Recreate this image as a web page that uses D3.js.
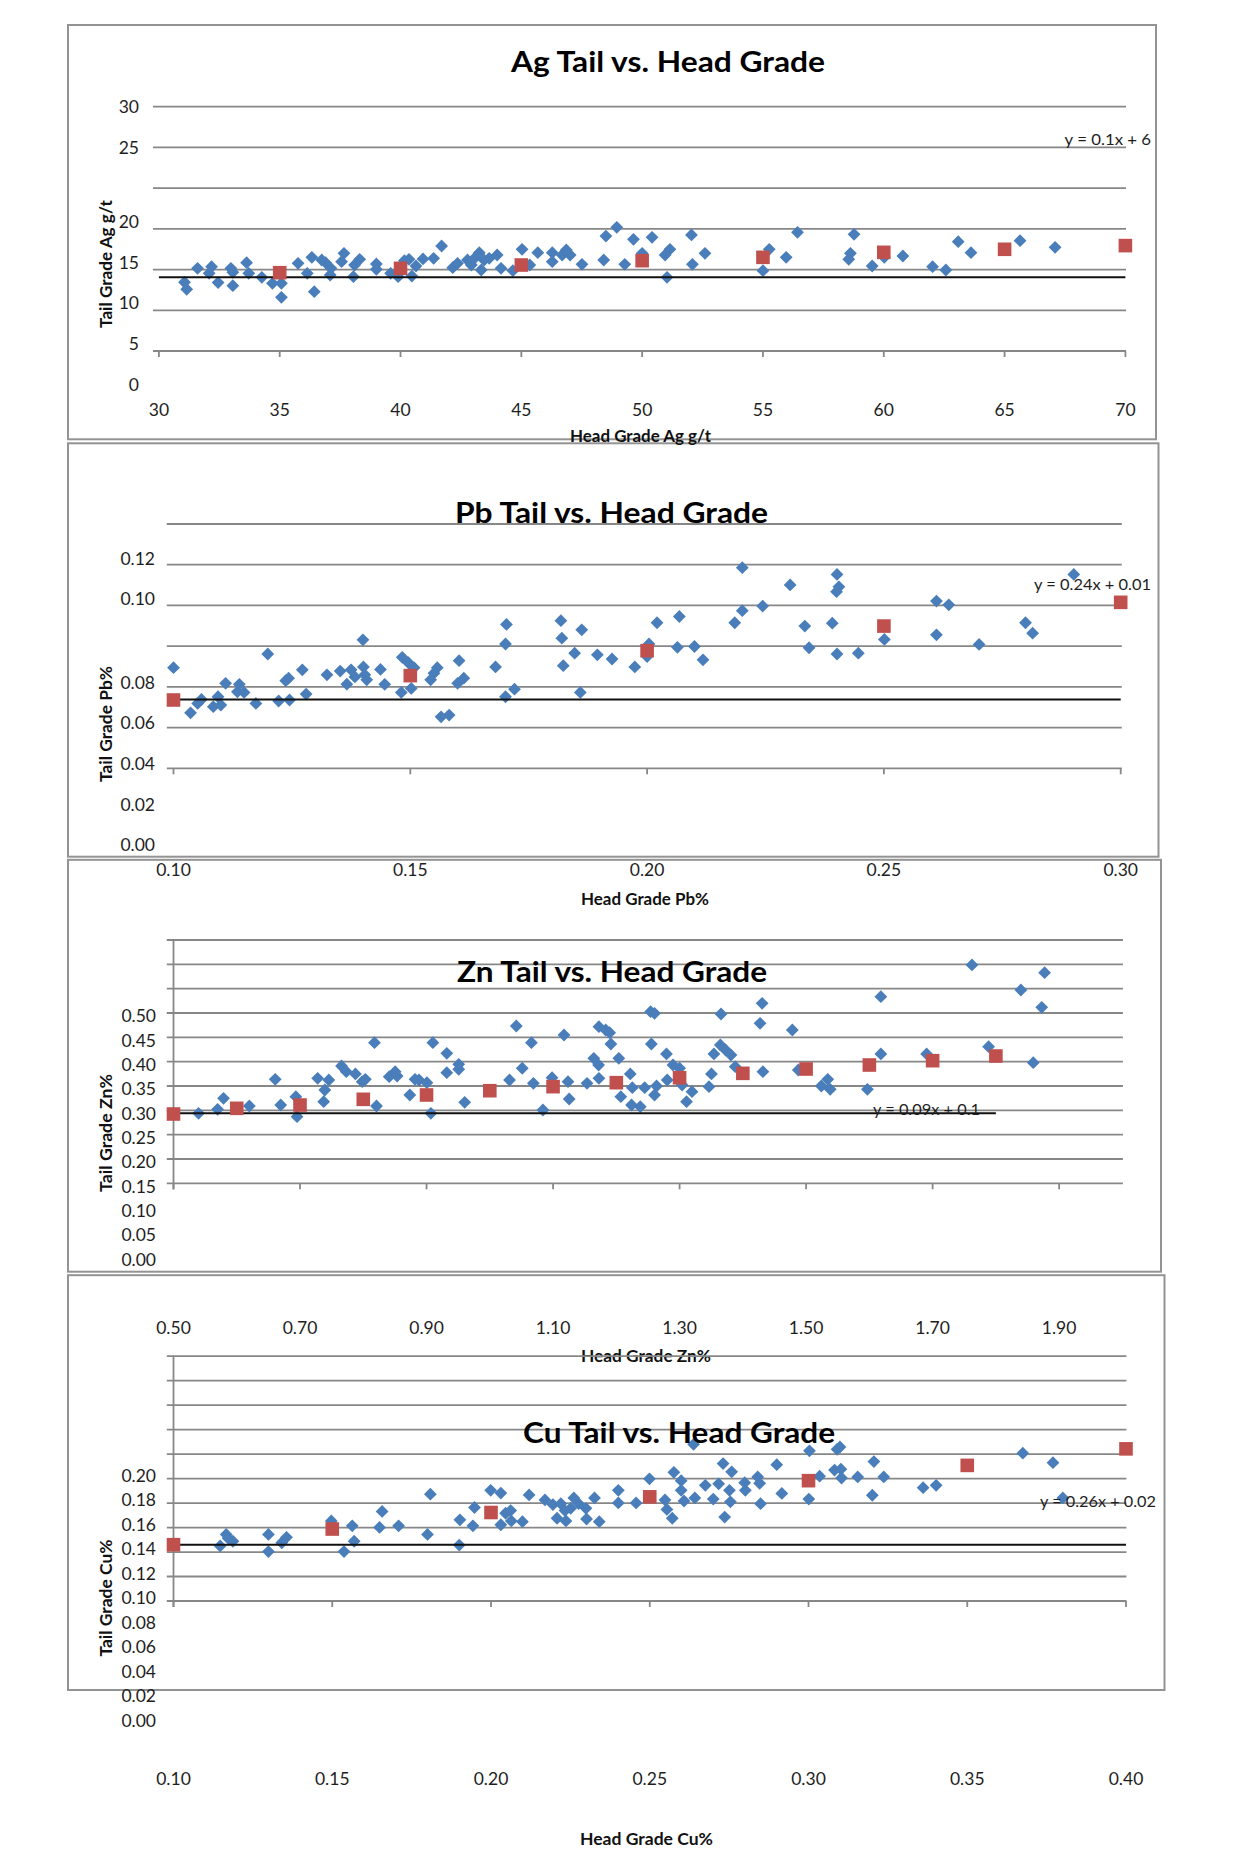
<!DOCTYPE html>
<html><head><meta charset="utf-8">
<script src="https://cdn.jsdelivr.net/npm/d3@7"></script>
<style>body{margin:0;background:#fff}svg{display:block}</style>
</head><body>
<script>
// ---------------- DATA ----------------
const agBlue = [[31.06,12.55],[31.15,11.69],[31.6,14.25],[32.08,13.64],[32.18,14.46],[32.45,12.51],[32.98,14.25],[33.06,13.76],[33.06,12.14],[33.63,14.94],[33.72,13.64],[34.26,13.15],[34.7,12.42],[35.07,12.42],[35.07,10.71],[35.76,14.86],[36.14,13.64],[36.33,15.6],[36.43,11.4],[36.74,15.27],[36.9,14.94],[37.09,13.44],[37.12,14.25],[37.56,15.07],[37.66,16.09],[38.05,13.23],[38.1,14.66],[38.31,15.35],[39.0,14.78],[39.0,14.13],[39.59,13.64],[39.9,13.23],[40.16,15.19],[40.35,15.35],[40.47,13.31],[40.64,14.54],[40.93,15.4],[41.37,15.48],[41.7,16.98],[42.16,14.33],[42.36,14.86],[42.77,15.27],[42.93,14.66],[43.1,15.6],[43.26,16.17],[43.34,14.05],[43.46,15.27],[43.67,15.48],[44.0,15.88],[44.16,14.25],[44.65,13.97],[45.03,16.58],[45.35,14.66],[45.68,16.17],[46.28,16.17],[46.28,15.07],[46.69,15.88],[46.86,16.5],[47.02,15.88],[47.51,14.74],[48.41,15.27],[48.5,18.2],[48.95,19.26],[49.28,14.74],[49.64,17.8],[50.0,16.09],[50.41,18.04],[50.95,15.88],[51.03,13.15],[51.15,16.58],[52.04,18.33],[52.08,14.74],[52.6,16.09],[55.0,13.97],[55.26,16.58],[55.96,15.6],[56.43,18.65],[58.55,15.35],[58.62,16.09],[58.77,18.41],[59.52,14.54],[60.02,15.6],[60.79,15.76],[62.02,14.46],[62.57,14.05],[63.08,17.51],[63.61,16.17],[65.64,17.63],[67.09,16.82]];
const agRed = [[35,13.72],[40,14.25],[45,14.66],[50,15.19],[55,15.6],[60,16.21],[65,16.58],[70,17.03]];
const agLine = [30,70,13.15];
const agXTicks = [30,35,40,45,50,55,60,65,70];
const agYLabels = [0,5,10,15,20,25,30];
const agGrid = [0,5,10,15,20,25,30];

const pbBlue = [[0.1000,0.0835],[0.1036,0.0650],[0.1051,0.0696],[0.1059,0.0716],[0.1084,0.0680],[0.1094,0.0729],[0.1100,0.0688],[0.1110,0.0795],[0.1135,0.0753],[0.1139,0.0790],[0.1149,0.0750],[0.1174,0.0696],[0.1199,0.0868],[0.1222,0.0708],[0.1237,0.0804],[0.1243,0.0810],[0.1245,0.0713],[0.1272,0.0830],[0.1280,0.0742],[0.1324,0.0818],[0.1352,0.0827],[0.1366,0.0791],[0.1375,0.0830],[0.1383,0.0813],[0.1400,0.0902],[0.1401,0.0837],[0.1404,0.0818],[0.1408,0.0806],[0.1437,0.0831],[0.1446,0.0790],[0.1483,0.0860],[0.1481,0.0750],[0.1496,0.0847],[0.1508,0.0835],[0.1502,0.0770],[0.1543,0.0806],[0.1550,0.0822],[0.1557,0.0835],[0.1565,0.0630],[0.1582,0.0639],[0.1600,0.0795],[0.1603,0.0852],[0.1613,0.0810],[0.1680,0.0837],[0.1701,0.0892],[0.1703,0.0939],[0.1701,0.0729],[0.1720,0.0766],[0.1818,0.0948],[0.1820,0.0906],[0.1823,0.0840],[0.1847,0.0870],[0.1862,0.0926],[0.1859,0.0750],[0.1895,0.0866],[0.1926,0.0856],[0.1974,0.0837],[0.2000,0.0862],[0.2004,0.0892],[0.2021,0.0943],[0.2064,0.0884],[0.2068,0.0958],[0.2100,0.0886],[0.2118,0.0854],[0.2185,0.0943],[0.2201,0.1154],[0.2201,0.0972],[0.2244,0.0983],[0.2302,0.1069],[0.2333,0.0935],[0.2342,0.0883],[0.2391,0.0942],[0.2401,0.1121],[0.2405,0.1060],[0.2400,0.1036],[0.2401,0.0868],[0.2446,0.0870],[0.2501,0.0903],[0.2611,0.0995],[0.2611,0.0914],[0.2637,0.0986],[0.2701,0.0891],[0.2799,0.0943],[0.2814,0.0918],[0.2901,0.1121]];
const pbRed = [[0.10,0.0713],[0.15,0.0816],[0.20,0.0876],[0.25,0.0935],[0.30,0.0992]];
const pbLine = [0.10,0.30,0.0716];
const pbXTicks = [0.10,0.15,0.20,0.25,0.30];
const pbYLabels = [0,0.02,0.04,0.06,0.08,0.10,0.12];
const pbGrid = [0,1,2,3,4,5,6];

const znBlue = [[0.5396,0.2939],[0.5697,0.3021],[0.5791,0.3247],[0.6199,0.3089],[0.6608,0.3637],[0.6695,0.3109],[0.6934,0.3280],[0.6953,0.2869],[0.7279,0.3658],[0.7374,0.3177],[0.7392,0.3418],[0.7455,0.3623],[0.7656,0.3911],[0.7732,0.3794],[0.7876,0.3747],[0.7983,0.3589],[0.8033,0.3637],[0.8177,0.4390],[0.8209,0.3089],[0.8410,0.3691],[0.8504,0.3794],[0.8535,0.3705],[0.8736,0.3315],[0.8818,0.3637],[0.8881,0.3623],[0.9006,0.3568],[0.9069,0.2939],[0.9100,0.4390],[0.9320,0.4172],[0.9320,0.3773],[0.9509,0.3946],[0.9509,0.3843],[0.9603,0.3165],[1.0312,0.3623],[1.0419,0.4733],[1.0513,0.3864],[1.0658,0.4390],[1.0689,0.3555],[1.0840,0.3007],[1.0984,0.3670],[1.1173,0.4548],[1.1236,0.3589],[1.1255,0.3233],[1.1537,0.3555],[1.1644,0.4069],[1.1720,0.3931],[1.1725,0.4719],[1.1725,0.3658],[1.1832,0.4651],[1.1895,0.4596],[1.1914,0.4363],[1.2039,0.4069],[1.2071,0.3280],[1.2221,0.3747],[1.2253,0.3465],[1.2241,0.3109],[1.2379,0.3075],[1.2448,0.3465],[1.2542,0.5027],[1.2604,0.4994],[1.2554,0.4363],[1.2604,0.3315],[1.2636,0.3500],[1.2793,0.4158],[1.2805,0.3623],[1.2896,0.3931],[1.3000,0.3864],[1.3040,0.3520],[1.3110,0.3177],[1.3196,0.3383],[1.3465,0.3486],[1.3504,0.3747],[1.3543,0.4158],[1.3655,0.4979],[1.3644,0.4342],[1.3728,0.4240],[1.3812,0.4137],[1.3880,0.3897],[1.4272,0.4788],[1.4305,0.5199],[1.4317,0.3794],[1.4782,0.4651],[1.4877,0.3829],[1.5241,0.3500],[1.5342,0.3637],[1.5381,0.3432],[1.5969,0.3432],[1.6182,0.5335],[1.6182,0.4158],[1.6905,0.4158],[1.7622,0.5987],[1.7885,0.4308],[1.8395,0.5473],[1.8591,0.3979],[1.8725,0.5117],[1.8770,0.5828]];
const znRed = [[0.5,0.2924],[0.6,0.3041],[0.7,0.3109],[0.8,0.3226],[0.9,0.3315],[1.0,0.3403],[1.1,0.3486],[1.2,0.3568],[1.3,0.3670],[1.4,0.3760],[1.5,0.3849],[1.6,0.3931],[1.7,0.4020],[1.8,0.4116]];
const znLine = [0.5,1.8,0.2939];
const znXTicks = [0.5,0.7,0.9,1.1,1.3,1.5,1.7,1.9];
const znYLabels = [0,0.05,0.10,0.15,0.20,0.25,0.30,0.35,0.40,0.45,0.50];
const znGrid = [0.15,0.20,0.25,0.30,0.35,0.40,0.45,0.50,0.55,0.60,0.65];

const cuBlue = [[0.1147,0.1450],[0.1166,0.1544],[0.1172,0.1513],[0.1187,0.1488],[0.1299,0.1544],[0.1299,0.1404],[0.1341,0.1476],[0.1356,0.1520],[0.1497,0.1654],[0.1537,0.1404],[0.1563,0.1614],[0.1569,0.1488],[0.1649,0.1601],[0.1657,0.1732],[0.1709,0.1614],[0.1800,0.1544],[0.1809,0.1873],[0.1900,0.1457],[0.1902,0.1663],[0.1943,0.1614],[0.1948,0.1764],[0.1999,0.1904],[0.2031,0.1882],[0.2031,0.1623],[0.2046,0.1717],[0.2062,0.1739],[0.2064,0.1654],[0.2099,0.1648],[0.2120,0.1867],[0.2170,0.1826],[0.2195,0.1788],[0.2208,0.1676],[0.2220,0.1795],[0.2233,0.1739],[0.2236,0.1654],[0.2251,0.1757],[0.2261,0.1842],[0.2276,0.1795],[0.2299,0.1757],[0.2301,0.1670],[0.2326,0.1842],[0.2341,0.1648],[0.2401,0.1904],[0.2401,0.1801],[0.2457,0.1801],[0.2499,0.1998],[0.2548,0.1826],[0.2554,0.1748],[0.2571,0.1676],[0.2576,0.2051],[0.2599,0.1983],[0.2599,0.1904],[0.2608,0.1817],[0.2638,0.2280],[0.2642,0.1842],[0.2675,0.1945],[0.2700,0.1833],[0.2717,0.1957],[0.2731,0.2123],[0.2736,0.1686],[0.2751,0.1904],[0.2754,0.1810],[0.2758,0.2055],[0.2799,0.1967],[0.2801,0.1904],[0.2840,0.2014],[0.2846,0.1961],[0.2849,0.1795],[0.2900,0.2114],[0.2916,0.1879],[0.3001,0.1833],[0.3003,0.2227],[0.3035,0.2020],[0.3082,0.2070],[0.3090,0.2239],[0.3099,0.2258],[0.3102,0.2077],[0.3104,0.2005],[0.3155,0.2014],[0.3201,0.1864],[0.3206,0.2139],[0.3237,0.2014],[0.3361,0.1926],[0.3402,0.1945],[0.3675,0.2208],[0.3770,0.2130],[0.3801,0.1842]];
const cuRed = [[0.10,0.146],[0.15,0.1588],[0.20,0.1723],[0.25,0.1851],[0.30,0.1983],[0.35,0.2108],[0.40,0.2243]];
const cuLine = [0.10,0.40,0.146];
const cuXTicks = [0.10,0.15,0.20,0.25,0.30,0.35,0.40];
const cuYLabels = [0,0.02,0.04,0.06,0.08,0.10,0.12,0.14,0.16,0.18,0.20];
const cuGrid = [0.10,0.12,0.14,0.16,0.18,0.20,0.22,0.24,0.26,0.28,0.30];

// ---------------- DRAW ----------------
const W = 1242, H = 1872;
const BLUE = "#4a7ebb", RED = "#c0504d", GRID = "#878787", FRAME = "#939393";
const FONT = "Lato, 'Open Sans', sans-serif";
const svg = d3.select("body").append("svg").attr("width", W).attr("height", H);
svg.append("rect").attr("width", W).attr("height", H).attr("fill", "#fff");

const frames = [[68,25,1156,439.3],[68,443.3,1158.5,856.7],[68,859.8,1161,1271.7],[68,1275.2,1164.5,1690]];
svg.selectAll(null).data(frames).join("rect")
  .attr("x", d => d[0]).attr("y", d => d[1])
  .attr("width", d => d[2]-d[0]).attr("height", d => d[3]-d[1])
  .attr("fill", "none").attr("stroke", FRAME).attr("stroke-width", 2);

const panels = [
  { blue: agBlue, red: agRed, line: agLine, xTicks: agXTicks, yLabels: agYLabels, grid: agGrid,
    x: d3.scaleLinear().domain([30,70]).range([158.9,1125.4]),
    y: d3.scaleLinear().domain([0,20,25,30]).range([385,221.3,147.3,106.7]),
    gy: d3.scaleLinear().domain([0,30]).range([351,106.7]),
    gridX: [153,1126], xFmt: d3.format("d"), yFmt: d3.format("d"),
    xLabBase: 416, yLabX: 139, yLabOff: 0, vAxis: false,
    title: "Ag Tail vs. Head Grade", tX: 668, tY: 71.7, tLen: 314,
    xTitle: "Head Grade Ag g/t", xtX: 640.5, xtY: 442, xtLen: 141,
    yTitle: "Tail Grade Ag g/t", ytX: 111.5, ytY: 264, ytLen: 128,
    eq: "y = 0.1x + 6", eqX: 1064.6, eqY: 145, eqLen: 86.5 },
  { blue: pbBlue, red: pbRed, line: pbLine, xTicks: pbXTicks, yLabels: pbYLabels, grid: pbGrid,
    x: d3.scaleLinear().domain([0.10,0.30]).range([173.5,1120.7]),
    y: d3.scaleLinear().domain([0,0.08,0.10,0.12]).range([845,682.3,599,558.3]),
    gy: d3.scaleLinear().domain([0,6]).range([768.3,524]),
    gridX: [166.8,1121.8], xFmt: d3.format(".2f"), yFmt: d3.format(".2f"),
    xLabBase: 876, yLabX: 155, yLabOff: 0, vAxis: false,
    title: "Pb Tail vs. Head Grade", tX: 611.5, tY: 523.3, tLen: 313,
    xTitle: "Head Grade Pb%", xtX: 645, xtY: 905, xtLen: 128,
    yTitle: "Tail Grade Pb%", ytX: 111.5, ytY: 724, ytLen: 116,
    eq: "y = 0.24x + 0.01", eqX: 1034, eqY: 590, eqLen: 117 },
  { blue: znBlue, red: znRed, line: znLine, xTicks: znXTicks, yLabels: znYLabels, grid: znGrid,
    x: d3.scaleLinear().domain([0.5,2.0]).range([173.5,1122.4]),
    y: d3.scaleLinear().domain([0,0.65]).range([1256.3,940]),
    gridX: [166.8,1122.9], xFmt: d3.format(".2f"), yFmt: d3.format(".2f"),
    xLabBase: 1334, yLabX: 156, yLabOff: 3, vAxis: true,
    title: "Zn Tail vs. Head Grade", tX: 612, tY: 981.7, tLen: 310,
    xTitle: "Head Grade Zn%", xtX: 646, xtY: 1362, xtLen: 130,
    yTitle: "Tail Grade Zn%", ytX: 111.5, ytY: 1133, ytLen: 118,
    eq: "y = 0.09x + 0.1", eqX: 873, eqY: 1115, eqLen: 107 },
  { blue: cuBlue, red: cuRed, line: cuLine, xTicks: cuXTicks, yLabels: cuYLabels, grid: cuGrid,
    x: d3.scaleLinear().domain([0.10,0.40]).range([173.5,1126]),
    y: d3.scaleLinear().domain([0.10,0.30]).range([1601,1356.2]),
    gridX: [166.8,1126.4], xFmt: d3.format(".2f"), yFmt: d3.format(".2f"),
    xLabBase: 1785, yLabX: 156, yLabOff: -3, vAxis: true,
    title: "Cu Tail vs. Head Grade", tX: 679, tY: 1443, tLen: 312,
    xTitle: "Head Grade Cu%", xtX: 646.5, xtY: 1845, xtLen: 133,
    yTitle: "Tail Grade Cu%", ytX: 111.5, ytY: 1598, ytLen: 117,
    eq: "y = 0.26x + 0.02", eqX: 1040, eqY: 1507, eqLen: 116 }
];

panels.forEach(c => {
  const g = svg.append("g");
  const gy = c.gy || c.y;
  const axisY = gy(c.grid[0]);
  const topY = gy(c.grid[c.grid.length-1]);
  // gridlines
  g.selectAll(null).data(c.grid).join("line")
    .attr("x1", c.gridX[0]).attr("x2", c.gridX[1])
    .attr("y1", d => gy(d)).attr("y2", d => gy(d))
    .attr("stroke", GRID).attr("stroke-width", 1.8);
  // x ticks
  g.selectAll(null).data(c.xTicks).join("line")
    .attr("x1", d => c.x(d)).attr("x2", d => c.x(d))
    .attr("y1", axisY).attr("y2", axisY + 6)
    .attr("stroke", GRID).attr("stroke-width", 1.8);
  if (c.vAxis) {
    const x0 = c.x(c.x.domain()[0]);
    g.append("line").attr("x1", x0).attr("x2", x0).attr("y1", topY).attr("y2", axisY + 6)
      .attr("stroke", GRID).attr("stroke-width", 1.8);
  }
  // tick labels
  g.selectAll(null).data(c.xTicks).join("text")
    .attr("x", d => c.x(d)).attr("y", c.xLabBase)
    .attr("text-anchor", "middle").attr("font-family", FONT).attr("font-size", 17.5)
    .attr("fill", "#1e1e1e").text(c.xFmt);
  g.selectAll(null).data(c.yLabels).join("text")
    .attr("x", c.yLabX).attr("y", d => c.y(d) + c.yLabOff).attr("dy", "0.36em")
    .attr("text-anchor", "end").attr("font-family", FONT).attr("font-size", 17.5)
    .attr("fill", "#1e1e1e").text(c.yFmt);
  // blue diamonds
  const diamond = d3.symbol(d3.symbolSquare, 82)();
  g.selectAll(null).data(c.blue).join("path")
    .attr("d", diamond)
    .attr("transform", d => `translate(${c.x(d[0])},${c.y(d[1])}) rotate(45)`)
    .attr("fill", BLUE);
  // flat black line
  g.append("line")
    .attr("x1", c.x(c.line[0])).attr("x2", c.x(c.line[1]))
    .attr("y1", c.y(c.line[2])).attr("y2", c.y(c.line[2]))
    .attr("stroke", "#111").attr("stroke-width", 2);
  // red squares
  const square = d3.symbol(d3.symbolSquare, 185)();
  g.selectAll(null).data(c.red).join("path")
    .attr("d", square)
    .attr("transform", d => `translate(${c.x(d[0])},${c.y(d[1])})`)
    .attr("fill", RED);
  // titles
  g.append("text").attr("x", c.tX).attr("y", c.tY).attr("text-anchor", "middle")
    .attr("font-family", FONT).attr("font-weight", "bold").attr("font-size", 28)
    .attr("textLength", c.tLen).attr("lengthAdjust", "spacingAndGlyphs")
    .attr("fill", "#000").text(c.title);
  g.append("text").attr("x", c.xtX).attr("y", c.xtY).attr("text-anchor", "middle")
    .attr("font-family", FONT).attr("font-weight", "bold").attr("font-size", 17)
    .attr("textLength", c.xtLen).attr("lengthAdjust", "spacingAndGlyphs")
    .attr("fill", "#111").text(c.xTitle);
  g.append("text").attr("transform", `translate(${c.ytX},${c.ytY}) rotate(-90)`)
    .attr("text-anchor", "middle")
    .attr("font-family", FONT).attr("font-weight", "bold").attr("font-size", 17)
    .attr("textLength", c.ytLen).attr("lengthAdjust", "spacingAndGlyphs")
    .attr("fill", "#111").text(c.yTitle);
  g.append("text").attr("x", c.eqX).attr("y", c.eqY)
    .attr("font-family", FONT).attr("font-size", 15)
    .attr("textLength", c.eqLen).attr("lengthAdjust", "spacingAndGlyphs")
    .attr("fill", "#1e1e1e").text(c.eq);
});
</script>
</body></html>
